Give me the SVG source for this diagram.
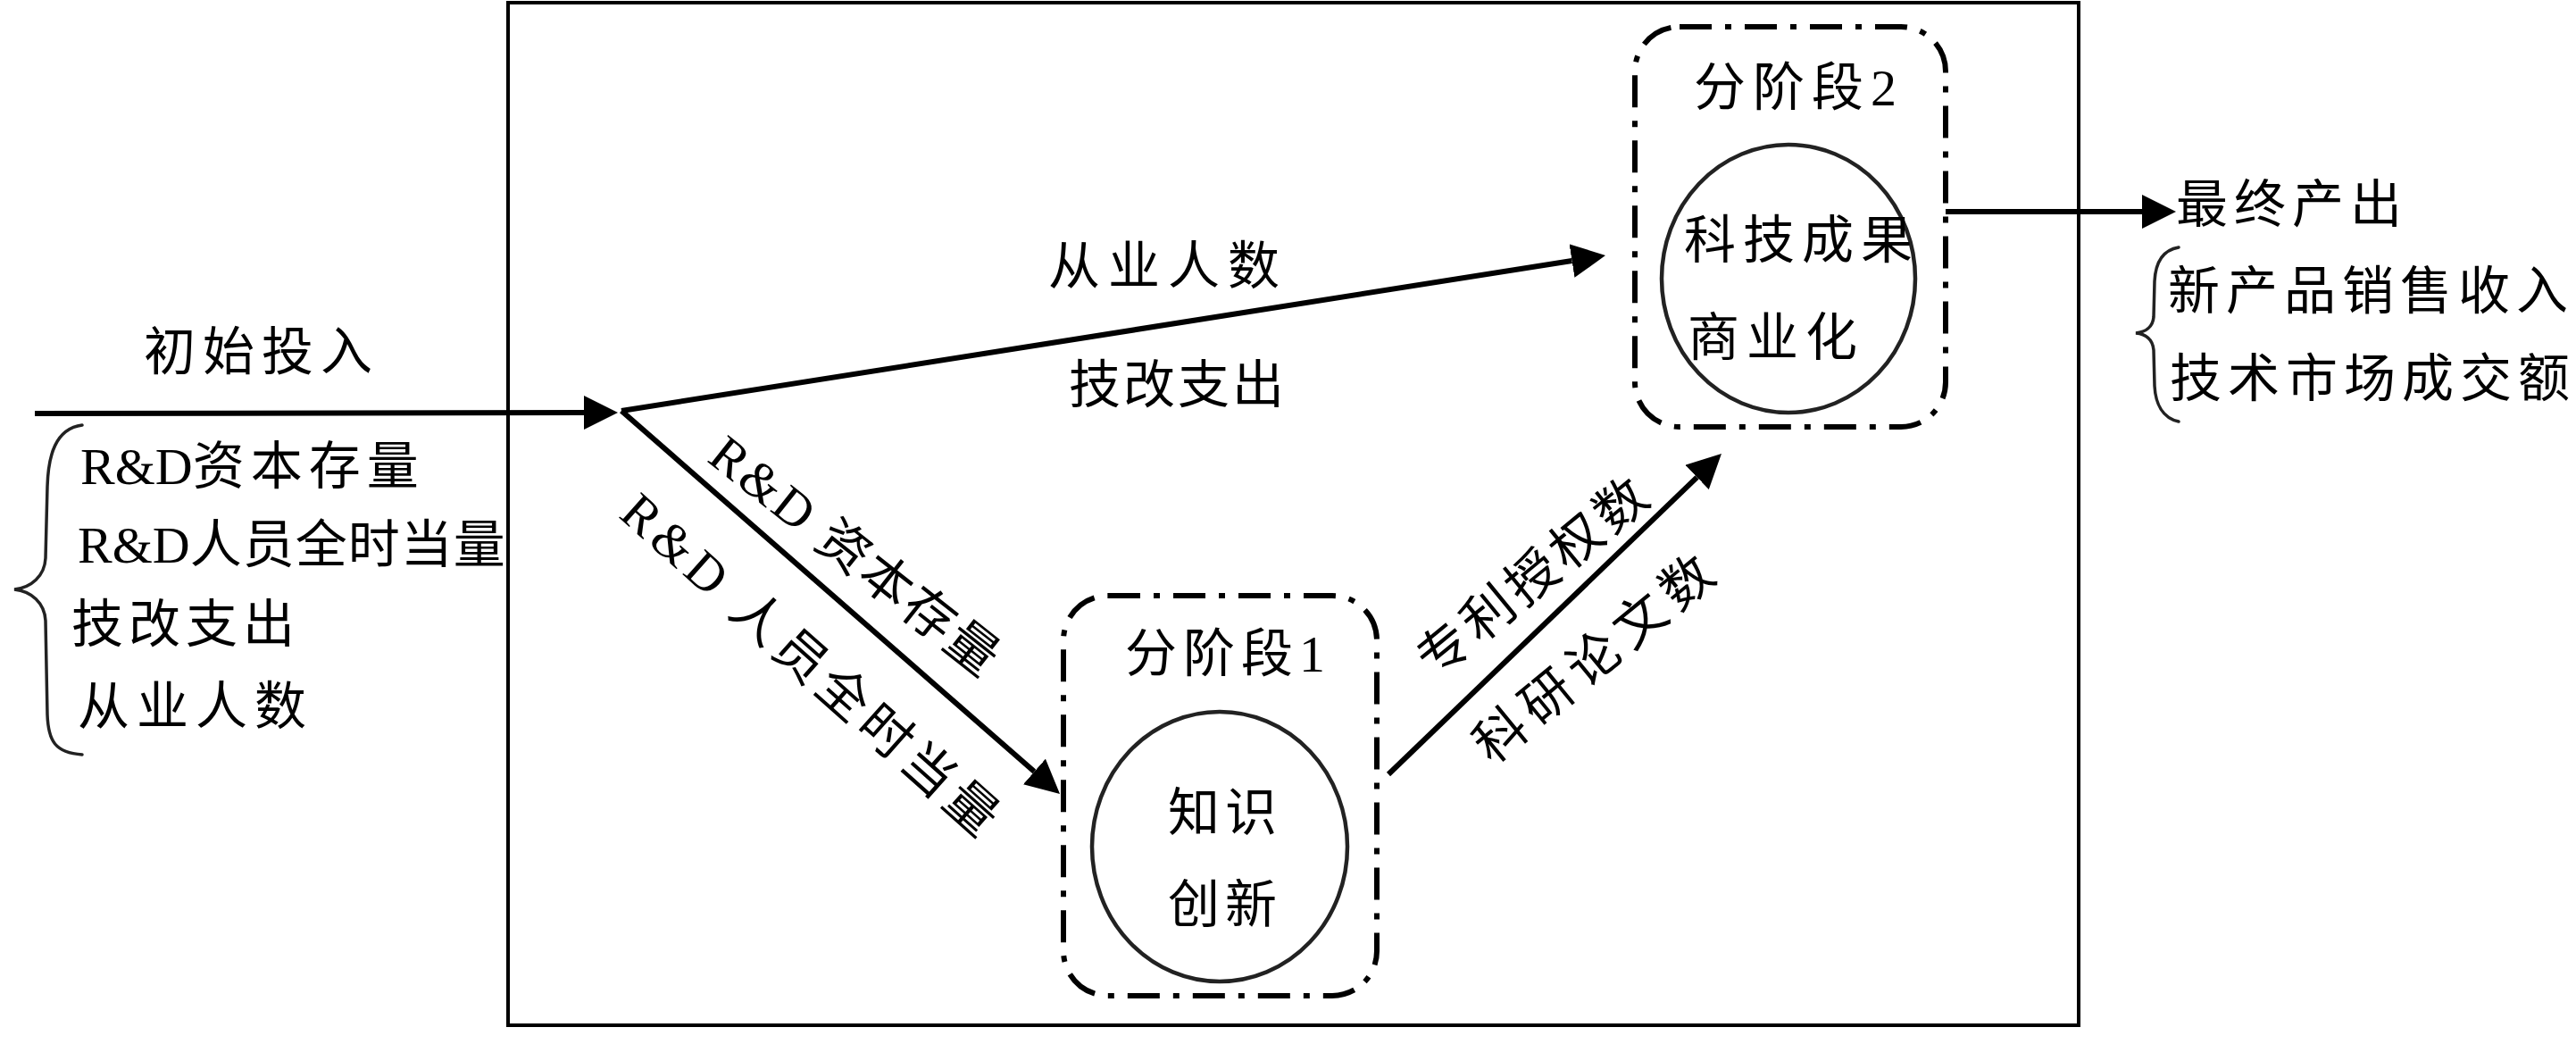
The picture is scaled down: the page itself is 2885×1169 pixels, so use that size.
<svg xmlns="http://www.w3.org/2000/svg" width="2885" height="1169" viewBox="0 0 2885 1169">
<defs>
<style>
text { font-family: "Liberation Serif", "Noto Sans CJK SC", serif; font-size: 58px; fill: #000; }
.conn { stroke: #000; stroke-width: 6; fill: none; marker-end: url(#ah); }
.stage { fill: none; stroke: #000; stroke-width: 6; stroke-dasharray: 36 15 7 15; }
.core { fill: none; stroke: #222; stroke-width: 4.5; }
.brace { fill: none; stroke: #222; stroke-width: 3.5; stroke-linecap: round; }
</style>
<marker id="ah" markerUnits="userSpaceOnUse" markerWidth="38" markerHeight="38" viewBox="0 0 38 38" refX="0" refY="19" orient="auto"><path d="M0,0 L38,19 L0,38 z" fill="#000"/></marker>
</defs>
<rect width="2885" height="1169" fill="#fff"/>

<g id="frame">
<rect x="569" y="3" width="1759" height="1145" fill="none" stroke="#000" stroke-width="4"/>
</g>

<g id="input">
<text x="161" y="414" style="letter-spacing:8px">初始投入</text>
<path class="brace" d="M92,476 C62,480 54,510 53,545 L51,625 C50,645 35,658 16,660 C35,662 50,675 51,695 L53,800 C54,830 62,843 92,845"/>
<text x="90" y="542"><tspan>R&amp;D</tspan><tspan style="letter-spacing:7px">资本存量</tspan></text>
<text x="87" y="630"><tspan>R&amp;D</tspan><tspan style="letter-spacing:1px">人员全时当量</tspan></text>
<text x="80" y="719" style="letter-spacing:6px">技改支出</text>
<text x="87" y="811" style="letter-spacing:8px">从业人数</text>
</g>

<g id="stage1">
<rect class="stage" x="1191" y="667" width="351" height="448" rx="50" ry="50"/>
<text x="1260" y="752"><tspan style="letter-spacing:7px">分阶段</tspan>1</text>
<ellipse class="core" cx="1366" cy="948" rx="143" ry="151"/>
<text x="1308" y="930" style="letter-spacing:6px">知识</text>
<text x="1308" y="1033" style="letter-spacing:6px">创新</text>
</g>

<g id="stage2">
<rect class="stage" x="1831" y="30" width="348" height="448" rx="50" ry="50"/>
<text x="1897" y="118"><tspan style="letter-spacing:8px">分阶段</tspan>2</text>
<ellipse class="core" cx="2003" cy="312" rx="142" ry="150"/>
<text x="1886" y="289" style="letter-spacing:8px">科技成果</text>
<text x="1890" y="398" style="letter-spacing:8px">商业化</text>
</g>

<g id="output">
<text x="2437" y="249" style="letter-spacing:7px">最终产出</text>
<path class="brace" d="M2440,277 C2422,280 2414,295 2413,315 L2412,355 C2411,366 2403,372 2392,373 C2403,374 2411,380 2412,392 L2413,432 C2414,452 2422,468 2440,472"/>
<text x="2428" y="346" style="letter-spacing:7px">新产品销售收入</text>
<text x="2430" y="444" style="letter-spacing:7px">技术市场成交额</text>
</g>

<g id="connectors">
<path class="conn" d="M39,463 L654,462"/>
<path class="conn" d="M696,460 L1760.5,292"/>
<path class="conn" d="M696,460 L1158.4,864"/>
<path class="conn" d="M1555,867 L1900.6,534.4"/>
<path class="conn" d="M2179,237 L2399,237"/>
</g>

<g id="edge-labels">
<text x="1174" y="318" style="letter-spacing:9px">从业人数</text>
<text x="1197" y="451" style="letter-spacing:3px">技改支出</text>
<text transform="translate(959,622) rotate(38.3)" x="0" y="21" text-anchor="middle" style="letter-spacing:3px">R&amp;D 资本存量</text>
<text transform="translate(910,745) rotate(41.7)" x="0" y="21" text-anchor="middle" style="letter-spacing:6px">R&amp;D 人员全时当量</text>
<text transform="translate(1718,644) rotate(-39.3)" x="0" y="21" text-anchor="middle" style="letter-spacing:6px">专利授权数</text>
<text transform="translate(1788,734) rotate(-39.4)" x="0" y="21" text-anchor="middle" style="letter-spacing:9.5px">科研论文数</text>
</g>
</svg>
